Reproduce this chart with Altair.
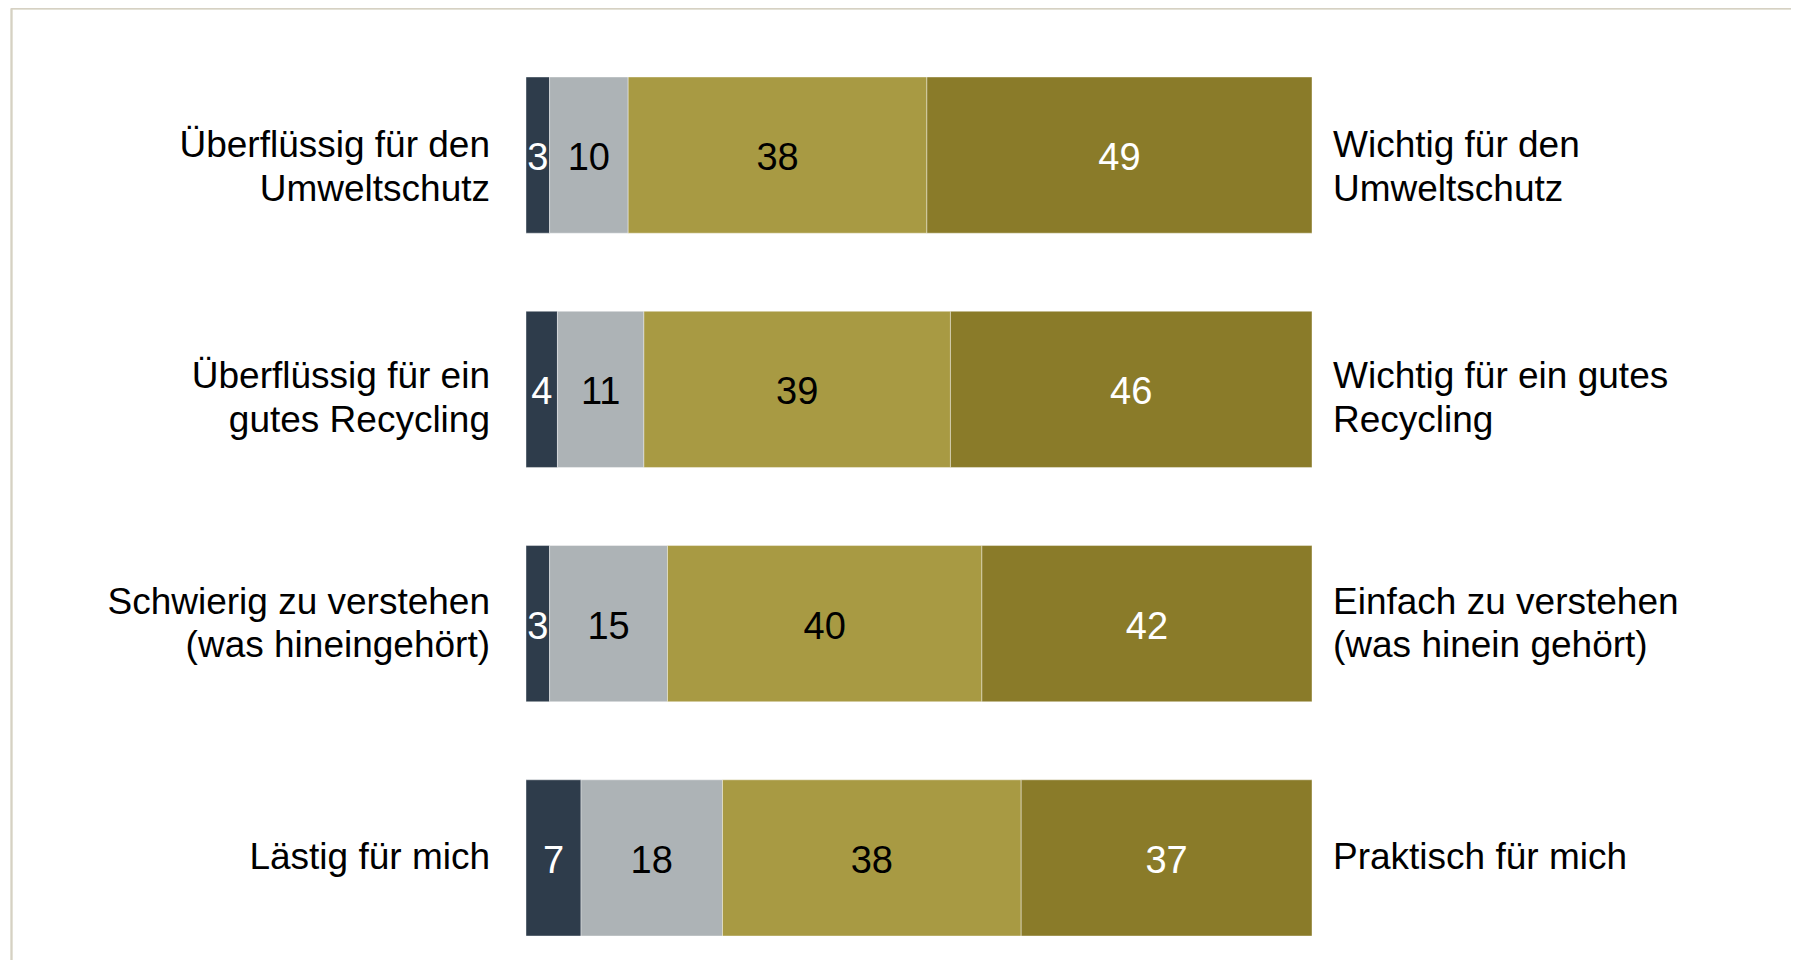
import altair as alt
import pandas as pd

# ---- data ----
rows = ["r1", "r2", "r3", "r4"]
left_labels = [
    "Überflüssig für den\nUmweltschutz",
    "Überflüssig für ein\ngutes Recycling",
    "Schwierig zu verstehen\n(was hineingehört)",
    "Lästig für mich",
]
right_labels = [
    "Wichtig für den\nUmweltschutz",
    "Wichtig für ein gutes\nRecycling",
    "Einfach zu verstehen\n(was hinein gehört)",
    "Praktisch für mich",
]
categories = ["Stufe 1", "Stufe 2", "Stufe 3", "Stufe 4"]
s1 = [3, 4, 3, 7]
s2 = [10, 11, 15, 18]
s3 = [38, 39, 40, 38]
s4 = [49, 46, 42, 37]
series = [s1, s2, s3, s4]

bar_colors = ["#2e3c4b", "#adb3b6", "#a89a43", "#8a7b29"]

recs = []
for ci, (cat, vals) in enumerate(zip(categories, series)):
    for ri, r in enumerate(rows):
        recs.append({"row": r, "cat": cat, "order": ci, "value": vals[ri]})
df = pd.DataFrame(recs)
lab_df = pd.DataFrame({"row": rows, "left": left_labels, "right": right_labels})

FONT = "Liberation Sans"

yenc = alt.Y("row:N", sort=rows, axis=None,
             scale=alt.Scale(paddingInner=1/3, paddingOuter=0))
xscale = alt.Scale(domain=[0, 100], nice=False, zero=True)

base = alt.Chart(df).transform_stack(
    stack="value", as_=["x0", "x1"], groupby=["row"],
    sort=[alt.SortField("order", order="ascending")]
).transform_calculate(mid="(datum.x0 + datum.x1) / 2")

bars = base.mark_bar(stroke="#ffffff", strokeWidth=0.8, strokeOpacity=0.5).encode(
    x=alt.X("x0:Q", scale=xscale, axis=None),
    x2="x1:Q",
    y=yenc,
    color=alt.Color("cat:N", scale=alt.Scale(domain=categories, range=bar_colors), legend=None),
)

nums = base.mark_text(font=FONT, fontSize=38, baseline="middle", align="center", dy=4).encode(
    x=alt.X("mid:Q", scale=xscale, axis=None),
    y=yenc,
    text=alt.Text("value:Q"),
    fill=alt.condition("datum.order == 0 || datum.order == 3",
                       alt.value("#ffffff"), alt.value("#000000")),
)

# vertical nudges of the label blocks, per row
label_dy = [-9, -12, -21, 0]

label_layers = []
for r, d in zip(rows, label_dy):
    sub = alt.Chart(lab_df).transform_filter(alt.datum.row == r)
    label_layers.append(sub.mark_text(
        font=FONT, fontSize=37, align="right", baseline="middle",
        lineBreak="\n", lineHeight=43.5, dy=d, color="#000000"
    ).encode(x=alt.value(-36), y=yenc, text="left:N"))
    label_layers.append(sub.mark_text(
        font=FONT, fontSize=37, align="left", baseline="middle",
        lineBreak="\n", lineHeight=43.5, dy=d, color="#000000"
    ).encode(x=alt.value(807), y=yenc, text="right:N"))

border_top = alt.Chart(lab_df).mark_rule(color="#d6d1c3", strokeWidth=1.5).encode(
    x=alt.value(-514.5), x2=alt.value(1265), y=alt.value(-68.5)
)
border_left = alt.Chart(lab_df).mark_rule(color="#d6d1c3", strokeWidth=1.5).encode(
    x=alt.value(-514.5), y=alt.value(-68.5), y2=alt.value(883)
)

chart = alt.layer(border_top, border_left, bars, nums, *label_layers).properties(
    width=786, height=859,
    autosize=alt.AutoSizeParams(type="none"),
    padding={"left": 518, "top": 69, "right": 479, "bottom": 24},
    background="#ffffff",
).configure_view(strokeWidth=0)

chart.save("out.html", embed_options={"renderer": "svg", "actions": False})
